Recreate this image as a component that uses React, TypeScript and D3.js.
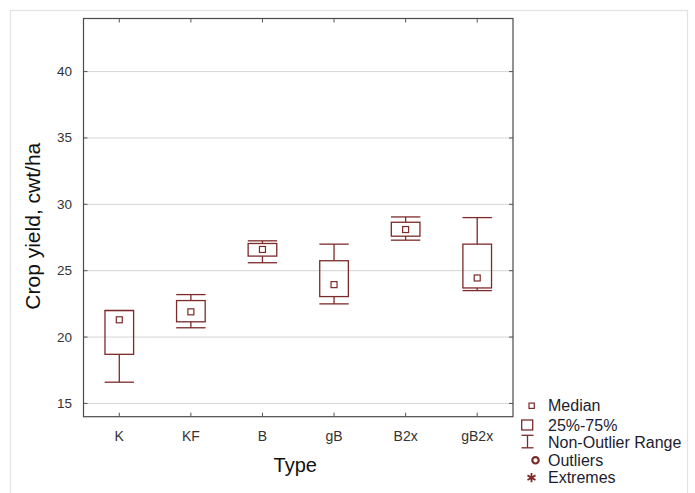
import React from 'react';
import * as d3 from 'd3';

const categories = ['K', 'KF', 'B', 'gB', 'B2x', 'gB2x'];
const minValues = [16.6, 20.7, 25.6, 22.5, 27.3, 23.5];
const q1Values = [18.7, 21.15, 26.1, 23.05, 27.6, 23.7];
const medianValues = [21.3, 21.9, 26.6, 23.95, 28.1, 24.45];
const q3Values = [22.0, 22.75, 27.05, 25.75, 28.65, 27.0];
const maxValues = [22.0, 23.2, 27.25, 27.0, 29.05, 29.0];
const yTicks = [15, 20, 25, 30, 35, 40];
const legendLabels = ['Median', '25%-75%', 'Non-Outlier Range', 'Outliers', 'Extremes'];

const W = 695;
const H = 493;
const left = 83.5;
const right = 513;
const top = 18.5;
const bottom = 416.7;
const boxColor = '#7d2a2a';
const font = '"Liberation Sans", Arial, sans-serif';

export default function App() {
  const x = d3.scaleBand<string>().domain(categories).range([left, right]).paddingInner(0).paddingOuter(0);
  const y = d3.scaleLinear().domain([14, 44]).range([bottom, top]);
  const bw = x.bandwidth();
  const boxW = bw * 0.4;
  const capW = bw * 0.205;

  const legendY = [405.7, 425, 442.3, 460.3, 477.7];
  const star = d3.symbol().type(d3.symbolAsterisk).size(60)();

  return (
    <svg width={W} height={H} style={{ position: 'absolute', left: 0, top: 0, background: '#fff' }}>
      <rect x={10.5} y={10.5} width={677} height={500} fill="#fff" stroke="#e2e2e2" strokeWidth={1.2} />
      {/* grid */}
      {yTicks.map((t) => (
        <line key={'g' + t} x1={left} x2={right} y1={y(t)} y2={y(t)} stroke="#d6d6d6" strokeWidth={1} />
      ))}
      {/* y ticks inside */}
      {yTicks.map((t) => (
        <g key={'yt' + t}>
          <line x1={left} x2={left + 4} y1={y(t)} y2={y(t)} stroke="#555" />
          <line x1={right} x2={right - 4} y1={y(t)} y2={y(t)} stroke="#555" />
          <text x={72} y={y(t)} textAnchor="end" dominantBaseline="central" fontFamily={font} fontSize={13.5} fill="#333">
            {t}
          </text>
        </g>
      ))}
      {/* x ticks */}
      {categories.map((c) => {
        const cx = (x(c) as number) + bw / 2;
        return (
          <g key={'xt' + c}>
            <line x1={cx} x2={cx} y1={bottom} y2={bottom - 4} stroke="#555" />
            <line x1={cx} x2={cx} y1={top} y2={top + 4} stroke="#555" />
            <text x={cx} y={440.5} textAnchor="middle" fontFamily={font} fontSize={14} fill="#333">
              {c}
            </text>
          </g>
        );
      })}
      {/* boxes */}
      {categories.map((c, i) => {
        const cx = (x(c) as number) + bw / 2;
        return (
          <g key={'b' + c} stroke={boxColor} strokeWidth={1.3} fill="none">
            <line x1={cx} x2={cx} y1={y(maxValues[i])} y2={y(q3Values[i])} />
            <line x1={cx} x2={cx} y1={y(q1Values[i])} y2={y(minValues[i])} />
            <line x1={cx - capW} x2={cx + capW} y1={y(maxValues[i])} y2={y(maxValues[i])} />
            <line x1={cx - capW} x2={cx + capW} y1={y(minValues[i])} y2={y(minValues[i])} />
            <rect x={cx - boxW / 2} y={y(q3Values[i])} width={boxW} height={y(q1Values[i]) - y(q3Values[i])} />
            <rect x={cx - 3} y={y(medianValues[i]) - 3} width={6} height={6} strokeWidth={1.2} />
          </g>
        );
      })}
      {/* plot border */}
      <rect x={left} y={top} width={right - left} height={bottom - top} fill="none" stroke="#4a4a4a" strokeWidth={1.2} />
      {/* axis titles */}
      <text x={(left + right) / 2 - 3} y={471.5} textAnchor="middle" fontFamily={font} fontSize={20} fill="#111">
        Type
      </text>
      <text
        transform={`translate(40, ${(141.7 + 310.7) / 2}) rotate(-90)`}
        textAnchor="middle"
        fontFamily={font}
        fontSize={21}
        fill="#111"
      >
        Crop yield, cwt/ha
      </text>
      {/* legend */}
      <g>
        <rect x={529} y={legendY[0] - 2.6} width={5.3} height={5.3} fill="none" stroke={boxColor} strokeWidth={1.2} />
        <rect x={521.7} y={legendY[1] - 5} width={11} height={10} fill="none" stroke={boxColor} strokeWidth={1.3} />
        <g stroke={boxColor} strokeWidth={1.3}>
          <line x1={521.5} x2={533.5} y1={legendY[2] - 7} y2={legendY[2] - 7} />
          <line x1={527.5} x2={527.5} y1={legendY[2] - 7} y2={legendY[2] + 5.5} />
          <line x1={521.5} x2={533.5} y1={legendY[2] + 5.5} y2={legendY[2] + 5.5} />
        </g>
        <circle cx={535.5} cy={legendY[3]} r={3.2} fill="#fff" stroke={boxColor} strokeWidth={2.2} />
        <path d={star as string} transform={`translate(531.5, ${legendY[4]})`} fill="none" stroke={boxColor} strokeWidth={1.8} />
        {legendLabels.map((l, i) => (
          <text key={l} x={548} y={legendY[i]} dominantBaseline="central" fontFamily={font} fontSize={16} fill="#1c1c30">
            {l}
          </text>
        ))}
      </g>
    </svg>
  );
}
